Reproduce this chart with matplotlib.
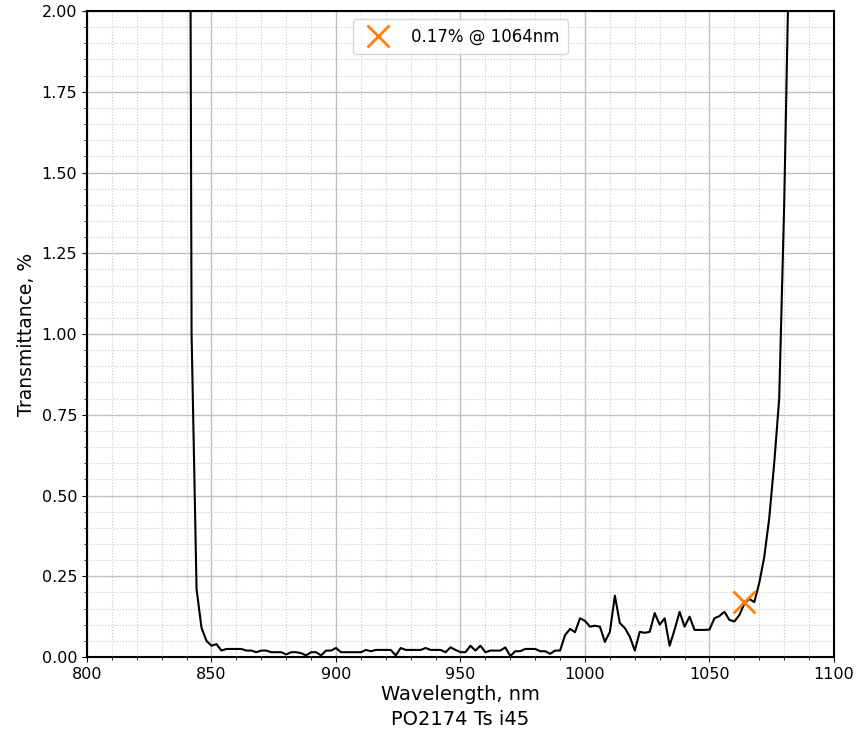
import numpy as np
import matplotlib
matplotlib.use("Agg")
import matplotlib.pyplot as plt
from matplotlib.ticker import MultipleLocator

# measured transmittance, 2 nm step
wavelength = np.arange(836, 1088, 2)
transmittance = [
    20, 12, 6, 1.0, 0.21, 0.09, 0.05, 0.035, 0.04, 0.02,
    0.025, 0.025, 0.025, 0.025, 0.02, 0.02, 0.015, 0.02, 0.02, 0.015,
    0.015, 0.015, 0.008, 0.015, 0.015, 0.012, 0.005, 0.015, 0.015, 0.005,
    0.02, 0.02, 0.028, 0.015, 0.015, 0.015, 0.015, 0.015, 0.022, 0.018,
    0.022, 0.022, 0.022, 0.022, 0.005, 0.028, 0.022, 0.022, 0.022, 0.022,
    0.028, 0.022, 0.022, 0.022, 0.015, 0.03, 0.022, 0.015, 0.015, 0.035,
    0.02, 0.035, 0.015, 0.02, 0.02, 0.02, 0.03, 0.003, 0.018, 0.018,
    0.025, 0.025, 0.025, 0.018, 0.018, 0.01, 0.02, 0.02, 0.068, 0.087,
    0.077, 0.12, 0.112, 0.094, 0.097, 0.094, 0.047, 0.078, 0.19, 0.105,
    0.09, 0.063, 0.02, 0.078, 0.075, 0.078, 0.136, 0.1, 0.12, 0.035,
    0.085, 0.14, 0.094, 0.125, 0.084, 0.084, 0.084, 0.085, 0.12, 0.127,
    0.14, 0.115, 0.11, 0.13, 0.165, 0.18, 0.17, 0.23, 0.31, 0.43,
    0.6, 0.8, 1.4, 2.2, 4.0, 8.0,
]

mark_wl = 1064
mark_t = 0.17

fig = plt.figure(figsize=(8.58, 7.54), dpi=100)
ax = fig.add_axes([0.1014, 0.1286, 0.8706, 0.8568])

ax.plot(wavelength, transmittance, color="black", lw=1.5)
ax.plot([mark_wl], [mark_t], "x", color="#ff7f0e", ms=16, mew=2,
        label=f"{mark_t:.2f}% @ {mark_wl}nm", linestyle="none")

ax.set_xlim(800, 1100)
ax.set_ylim(0, 2)
ax.xaxis.set_major_locator(MultipleLocator(50))
ax.xaxis.set_minor_locator(MultipleLocator(10))
ax.yaxis.set_major_locator(MultipleLocator(0.25))
ax.yaxis.set_minor_locator(MultipleLocator(0.05))
ax.grid(which="major", color="#c0c0c0", lw=1)
ax.grid(which="minor", color="#c8c8c8", lw=0.8, linestyle=":")
for s in ax.spines.values():
    s.set_linewidth(1.5)
ax.tick_params(labelsize=11.5)

ax.set_xlabel("Wavelength, nm", fontsize=14, labelpad=2)
ax.set_ylabel("Transmittance, %", fontsize=13.5)
ax.legend(loc="upper center", fontsize=12, handletextpad=1.0, borderpad=0.5)
fig.text(0.536, 0.038, "PO2174 Ts i45", ha="center", fontsize=14)

fig.savefig("out.png", dpi=100)
